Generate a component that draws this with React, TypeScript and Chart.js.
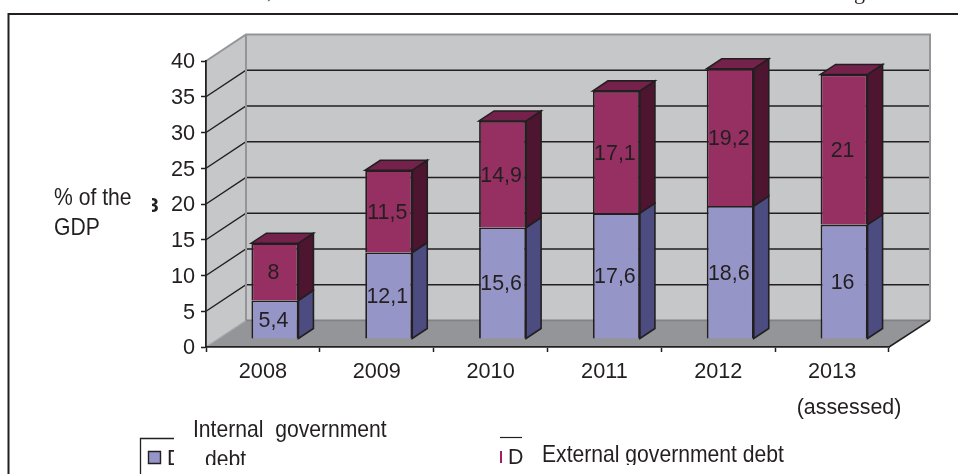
import React, { useEffect, useRef } from "react";
import { Chart, registerables } from "chart.js";

Chart.register(...registerables);

const categories = ["2008", "2009", "2010", "2011", "2012", "2013"];
const internalDebt = [5.4, 12.1, 15.6, 17.6, 18.6, 16];
const externalDebt = [8, 11.5, 14.9, 17.1, 19.2, 21];
const axisMax = 40;
const axisStep = 5;

const FONT = '"Liberation Sans", Arial, sans-serif';
const INK = "#231f20";
const WALL = "#c6c7c9";
const FLOOR = "#939598";
const EDGE = "#939598";

// Depth of the box the chart stands in, and of the bars inside it.
const BOX_DX = 40;
const BOX_DY = -26.6;
const BAR_SHIFT_X = 12;
const BAR_SHIFT_Y = -8;
const BAR_DX = 15;
const BAR_DY = -10;

// Captions and legend entries are set tall and narrow.
const TALL = 24;
const TALL_SX = 0.88;

const faces = [
  { front: "#9595c8", side: "#4c4c80", top: "#6a6aa0" },
  { front: "#962f62", side: "#4d152f", top: "#74224c" },
];

function poly(ctx: CanvasRenderingContext2D, pts: number[][], fill?: string, stroke?: string, lw = 1.6) {
  ctx.beginPath();
  pts.forEach(([x, y], i) => (i ? ctx.lineTo(x, y) : ctx.moveTo(x, y)));
  if (fill) {
    ctx.closePath();
    ctx.fillStyle = fill;
    ctx.fill();
  }
  if (stroke) {
    ctx.strokeStyle = stroke;
    ctx.lineWidth = lw;
    ctx.stroke();
  }
}

function text(ctx: CanvasRenderingContext2D, s: string, x: number, y: number, font = `21.4px ${FONT}`, align: CanvasTextAlign = "left") {
  ctx.font = font;
  ctx.fillStyle = INK;
  ctx.textAlign = align;
  ctx.textBaseline = "alphabetic";
  ctx.fillText(s, x, y);
}

function tallText(ctx: CanvasRenderingContext2D, s: string, x: number, y: number) {
  ctx.save();
  ctx.translate(x, y);
  ctx.scale(TALL_SX, 1);
  text(ctx, s, 0, 0, `${TALL}px ${FONT}`);
  ctx.restore();
}

// Walls, floor and grid of the 3D box, painted behind the axes.
const boxPlugin = {
  id: "box3d",
  beforeDraw(chart: any) {
    const { ctx, chartArea: a, scales } = chart;
    const yScale = scales.y;
    ctx.save();
    const l = a.left, r = a.right, t = a.top, b = a.bottom;
    const bl = l + BOX_DX, br = r + BOX_DX + 1, bt = t + BOX_DY, bb = b + BOX_DY;
    poly(ctx, [[l, b], [l, t], [bl, bt], [bl, bb]], WALL);
    poly(ctx, [[bl, bt], [br, bt], [br, bb], [bl, bb]], WALL);
    poly(ctx, [[l, b], [bl, bb], [br, bb], [r, b]], FLOOR);

    for (const tick of yScale.ticks) {
      if (tick.value === 0 || tick.value === axisMax) continue;
      const py = yScale.getPixelForValue(tick.value);
      poly(ctx, [[l, py], [bl, py + BOX_DY], [br - 1, py + BOX_DY]], undefined, INK, 1.5);
    }
    poly(ctx, [[l, t], [bl, bt], [br, bt], [br, bb]], undefined, EDGE, 2);
    poly(ctx, [[bl, bt], [bl, bb]], undefined, EDGE, 2);
    poly(ctx, [[l, b], [bl, bb]], undefined, "#a6a8ab", 1.2);
    poly(ctx, [[bl, bb], [br, bb]], undefined, "#808285", 1.6);
    poly(ctx, [[r, b], [br, bb]], undefined, INK, 1.5);
    ctx.restore();
  },
  // Bars stand a little way into the box; side and top faces hang off each front.
  beforeDatasetsDraw(chart: any) {
    const { ctx } = chart;
    ctx.save();
    ctx.translate(BAR_SHIFT_X, BAR_SHIFT_Y);
    chart.data.datasets.forEach((_: any, di: number) => {
      chart.getDatasetMeta(di).data.forEach((el: any) => {
        const right = el.x + el.width / 2;
        const left = el.x - el.width / 2;
        poly(ctx, [[right, el.y], [right + BAR_DX, el.y + BAR_DY], [right + BAR_DX, el.base + BAR_DY], [right, el.base]], faces[di].side, INK);
        if (di === chart.data.datasets.length - 1) {
          poly(ctx, [[left, el.y], [left + BAR_DX, el.y + BAR_DY], [right + BAR_DX, el.y + BAR_DY], [right, el.y]], faces[di].top, INK);
        }
      });
    });
  },
  afterDatasetsDraw(chart: any) {
    const { ctx } = chart;
    ctx.restore();
    ctx.save();
    chart.data.datasets.forEach((ds: any, di: number) => {
      chart.getDatasetMeta(di).data.forEach((el: any, i: number) => {
        const cy = (el.y + el.base) / 2 + BAR_SHIFT_Y + 7.5;
        text(ctx, String(ds.data[i]).replace(".", ","), el.x + BAR_SHIFT_X - 1.5, cy, `21.4px ${FONT}`, "center");
      });
    });
    ctx.restore();
  },
};

// Page furniture around the plot: frame, axis caption, legend and stray glyphs of the page.
const furniturePlugin = {
  id: "furniture",
  afterDraw(chart: any) {
    const { ctx } = chart;
    ctx.save();
    poly(ctx, [[8.5, 474], [8.5, 14], [958, 14]], undefined, INK, 2);

    tallText(ctx, "% of the", 54, 205);
    tallText(ctx, "GDP", 54, 235);
    text(ctx, "(assessed)", 849, 413.5, `21.4px ${FONT}`, "center");

    ctx.save();
    ctx.beginPath();
    ctx.rect(152, 190, 10, 30);
    ctx.clip();
    text(ctx, "3", 147, 212, `bold 21px ${FONT}`);
    ctx.restore();

    text(ctx, ",", 267, -2, '22px "Liberation Serif", serif');
    text(ctx, "g", 854, -1, '22px "Liberation Serif", serif');

    poly(ctx, [[140.5, 474], [140.5, 438.5], [174, 438.5]], undefined, INK, 1.3);
    poly(ctx, [[148.5, 451.5], [160.5, 451.5], [160.5, 463.5], [148.5, 463.5]], faces[0].front, INK, 1.4);
    poly(ctx, [[500, 437.5], [522, 437.5]], undefined, INK, 1.2);
    poly(ctx, [[500, 451], [502, 451], [502, 463], [500, 463]], "#a0205f");

    tallText(ctx, "Internal  government", 193, 436.7);

    // Legend row is cut off along its lower edge.
    ctx.save();
    ctx.beginPath();
    ctx.rect(160, 440, 798, 25);
    ctx.clip();
    ctx.save();
    ctx.beginPath();
    ctx.rect(165, 440, 9, 25);
    ctx.clip();
    text(ctx, "D", 167, 465);
    ctx.restore();
    tallText(ctx, "debt", 205, 467);
    text(ctx, "D", 508, 464);
    tallText(ctx, "External government debt", 542, 461.5);
    ctx.restore();
    ctx.restore();
  },
};

export default function App() {
  const ref = useRef<HTMLCanvasElement | null>(null);

  useEffect(() => {
    document.body.style.margin = "0";
    const chart = new Chart(ref.current as HTMLCanvasElement, {
      type: "bar",
      data: {
        labels: categories,
        datasets: [
          { label: "Internal government debt", data: internalDebt, backgroundColor: faces[0].front, borderColor: INK, borderWidth: 1.8, clip: false },
          { label: "External government debt", data: externalDebt, backgroundColor: faces[1].front, borderColor: INK, borderWidth: 1.8, clip: false },
        ],
      } as any,
      options: {
        responsive: false,
        animation: false,
        layout: { padding: { left: 0, top: 61, right: 69, bottom: 0 } },
        plugins: { legend: { display: false }, title: { display: false }, tooltip: { enabled: false } },
        datasets: { bar: { categoryPercentage: 1, barPercentage: 0.413 } },
        scales: {
          x: {
            stacked: true,
            afterFit(scale: any) {
              scale.height = 127;
            },
            grid: { drawOnChartArea: false, tickLength: 5, tickColor: INK, tickWidth: 1.5 },
            border: { color: INK, width: 1.8 },
            ticks: { color: INK, font: { family: FONT, size: 21.7 }, padding: 7, maxRotation: 0 },
          },
          y: {
            stacked: true,
            min: 0,
            max: axisMax,
            afterFit(scale: any) {
              scale.width = 206;
            },
            grid: { drawOnChartArea: false, tickLength: 5, tickColor: INK, tickWidth: 1.5 },
            border: { color: INK, width: 1.8 },
            ticks: { color: INK, stepSize: axisStep, font: { family: FONT, size: 21.7 }, padding: 6, labelOffset: 1.5 },
          },
        },
      } as any,
      plugins: [boxPlugin, furniturePlugin],
    });
    return () => chart.destroy();
  }, []);

  return <canvas ref={ref} width={958} height={474} style={{ display: "block", width: 958, height: 474 }} />;
}
